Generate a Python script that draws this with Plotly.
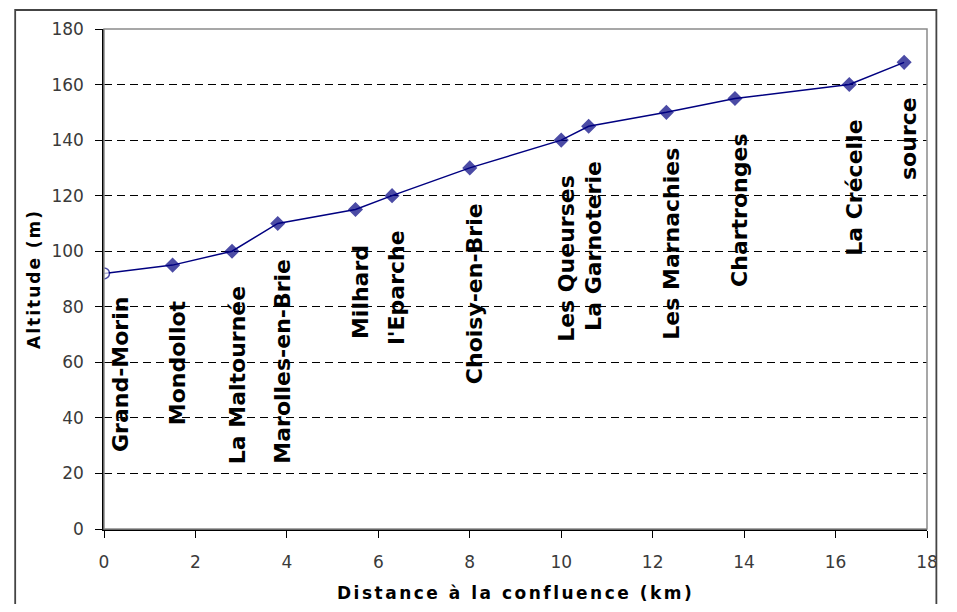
import plotly.graph_objects as go

# Data
places = ["Grand-Morin", "Mondollot", "La Maltournée", "Marolles-en-Brie", "Milhard",
          "l'Eparche", "Choisy-en-Brie", "Les Queurses", "La Garnoterie",
          "Les Marnachies", "Chartronges", "La Crécelle", "source"]
distance_km = [0, 1.5, 2.8, 3.8, 5.5, 6.3, 8.0, 10.0, 10.6, 12.3, 13.8, 16.3, 17.5]
altitude_m = [92, 95, 100, 110, 115, 120, 130, 140, 145, 150, 155, 160, 168]
x_ticks = [0, 2, 4, 6, 8, 10, 12, 14, 16, 18]
y_ticks = [0, 20, 40, 60, 80, 100, 120, 140, 160, 180]

NAVY = "#000080"
OFF = 8  # default page body margin
W, H = 957 - 2 * OFF, 612 - 2 * OFF
# desired plot area in page pixels
PX0, PX1, PY0, PY1 = 104, 938, 29, 529
L, T = PX0 - OFF, PY0 - OFF
R, B = W - (PX1 - OFF), H - (PY1 - OFF)
pw, ph = PX1 - PX0, PY1 - PY0

symbols = ["circle"] + ["diamond"] * (len(places) - 1)
fills = ["white"] + [NAVY] * (len(places) - 1)
sizes = [11] + [10] * (len(places) - 1)

fig = go.Figure()
fig.add_trace(go.Scatter(
    x=distance_km, y=altitude_m, mode="lines+markers",
    line=dict(color=NAVY, width=1.5),
    marker=dict(symbol=symbols, color=fills, size=sizes,
                line=dict(color=NAVY, width=1.5)),
    showlegend=False, hoverinfo="x+y+text", text=places,
))

for i, (name, xv, yv) in enumerate(zip(places, distance_km, altitude_m)):
    fig.add_annotation(
        x=xv, y=yv, text="<b>%s</b>" % name, textangle=-90, showarrow=False,
        xanchor="center", yanchor="top",
        xshift=17 if i == 0 else 5, yshift=-22 if i == 0 else -33,
        font=dict(family="DejaVu Sans", size=22, color="black"),
    )

# axis titles
fig.add_annotation(
    x=0.5, y=(PY1 - 593) / ph, xref="paper", yref="paper", showarrow=False,
    xanchor="center", yanchor="middle",
    text='<span style="letter-spacing:2.5px"><b>Distance à la confluence (km)</b></span>',
    font=dict(family="DejaVu Sans", size=17, color="black"),
)
fig.add_annotation(
    x=(33 - PX0) / pw, y=0.5, xref="paper", yref="paper", showarrow=False,
    xanchor="center", yanchor="middle", textangle=-90,
    text='<span style="letter-spacing:2px"><b>Altitude (m)</b></span>',
    font=dict(family="DejaVu Sans", size=17, color="black"),
)

# plot area border (top/right grey)
fig.add_shape(type="rect", xref="paper", yref="paper", x0=0, x1=1, y0=0, y1=1,
              line=dict(color="#8a8a8a", width=1.5), layer="above")
# outer chart border
fig.add_shape(type="rect", xref="paper", yref="paper",
              x0=(14 - PX0) / pw, x1=(947.5 - PX0) / pw,
              y0=(PY1 - 640) / ph, y1=(PY1 - 10) / ph,
              line=dict(color="#444444", width=1.8), layer="above")

fig.update_layout(
    width=W, height=H, margin=dict(l=L, r=R, t=T, b=B),
    paper_bgcolor="white", plot_bgcolor="white",
    font=dict(family="DejaVu Sans", size=17, color="#3a3a3a"),
    xaxis=dict(range=[0, 18], tickvals=x_ticks, ticktext=[str(v) for v in x_ticks],
               showgrid=False, zeroline=False, showline=True, linecolor="black",
               linewidth=1.5, ticks="outside", ticklen=7, tickcolor="black",
               tickwidth=1.2, ticklabelstandoff=10, fixedrange=True),
    yaxis=dict(range=[0, 180], tickvals=y_ticks, ticktext=[str(v) for v in y_ticks],
               showgrid=True, gridcolor="black", gridwidth=1, griddash="8px,5px",
               zeroline=False, showline=True, linecolor="black", linewidth=1.5,
               ticks="outside", ticklen=7, tickcolor="black", tickwidth=1.2,
               ticklabelstandoff=8, fixedrange=True),
)

fig.write_html("out.html", config={"displayModeBar": False})
